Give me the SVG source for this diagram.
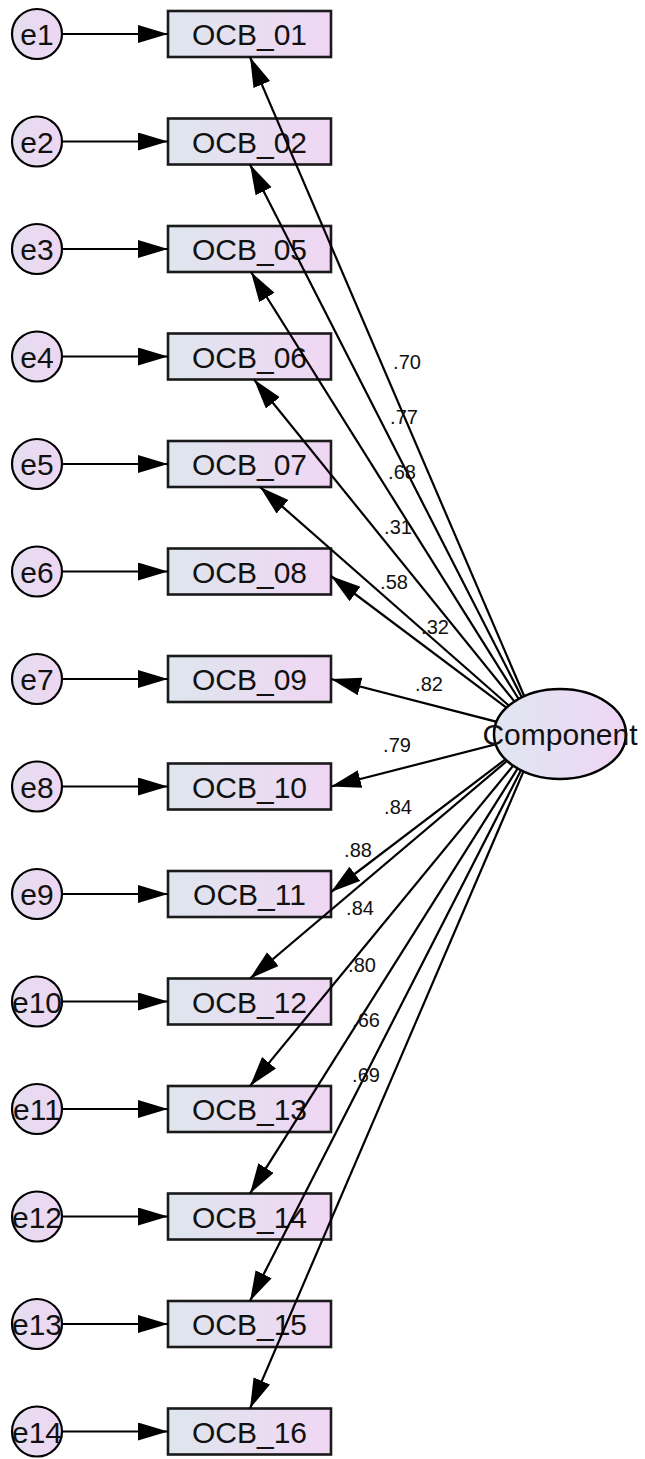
<svg xmlns="http://www.w3.org/2000/svg" width="645" height="1459" viewBox="0 0 645 1459">
  <defs>
    <linearGradient id="boxFill" x1="0" y1="0" x2="1" y2="0">
      <stop offset="0" stop-color="#dee6ee"/>
      <stop offset="1" stop-color="#f0d6f3"/>
    </linearGradient>
    <linearGradient id="errFill" x1="0" y1="0" x2="1" y2="0">
      <stop offset="0" stop-color="#e4def0"/>
      <stop offset="1" stop-color="#eed6f2"/>
    </linearGradient>
    <linearGradient id="latFill" x1="0" y1="0" x2="1" y2="0">
      <stop offset="0" stop-color="#e0e6f0"/>
      <stop offset="1" stop-color="#efd6f5"/>
    </linearGradient>
    <marker id="arrow" markerUnits="userSpaceOnUse" markerWidth="32" markerHeight="20" refX="30" refY="9" orient="auto">
      <path d="M0,0 L30,9 L0,18 z" fill="#000"/>
    </marker>
    <style>
      .err { fill: url(#errFill); stroke: #000; stroke-width: 2.2; }
      .box { fill: url(#boxFill); stroke: #1a1a1a; stroke-width: 2.6; }
      .lat { fill: url(#latFill); stroke: #000; stroke-width: 2.5; }
      .lbl { font-family: "Liberation Sans", Arial, sans-serif; font-size: 30px; fill: #111; text-anchor: middle; }
      .num { font-family: "Liberation Sans", Arial, sans-serif; font-size: 20px; fill: #111; text-anchor: middle; }
      .path { stroke: #000; stroke-width: 2.2; fill: none; marker-end: url(#arrow); }
    </style>
  </defs>
  <rect width="645" height="1459" fill="#fff"/>

  <!-- error terms -->
  <g id="e1"><circle class="err" cx="37" cy="34" r="25"/><text class="lbl" x="37" y="45">e1</text></g>
  <g id="e2"><circle class="err" cx="37" cy="141.5" r="25"/><text class="lbl" x="37" y="152.5">e2</text></g>
  <g id="e3"><circle class="err" cx="37" cy="249" r="25"/><text class="lbl" x="37" y="260">e3</text></g>
  <g id="e4"><circle class="err" cx="37" cy="356.5" r="25"/><text class="lbl" x="37" y="367.5">e4</text></g>
  <g id="e5"><circle class="err" cx="37" cy="464" r="25"/><text class="lbl" x="37" y="475">e5</text></g>
  <g id="e6"><circle class="err" cx="37" cy="571.5" r="25"/><text class="lbl" x="37" y="582.5">e6</text></g>
  <g id="e7"><circle class="err" cx="37" cy="679" r="25"/><text class="lbl" x="37" y="690">e7</text></g>
  <g id="e8"><circle class="err" cx="37" cy="786.5" r="25"/><text class="lbl" x="37" y="797.5">e8</text></g>
  <g id="e9"><circle class="err" cx="37" cy="894" r="25"/><text class="lbl" x="37" y="905">e9</text></g>
  <g id="e10"><circle class="err" cx="37" cy="1001.5" r="25"/><text class="lbl" x="37" y="1012.5">e10</text></g>
  <g id="e11"><circle class="err" cx="37" cy="1109" r="25"/><text class="lbl" x="37" y="1120">e11</text></g>
  <g id="e12"><circle class="err" cx="37" cy="1216.5" r="25"/><text class="lbl" x="37" y="1227.5">e12</text></g>
  <g id="e13"><circle class="err" cx="37" cy="1324" r="25"/><text class="lbl" x="37" y="1335">e13</text></g>
  <g id="e14"><circle class="err" cx="37" cy="1431.5" r="25"/><text class="lbl" x="37" y="1442.5">e14</text></g>

  <!-- observed items -->
  <g id="OCB_01"><rect class="box" x="168" y="11" width="163" height="46"/><text class="lbl" x="249.5" y="45">OCB_01</text></g>
  <g id="OCB_02"><rect class="box" x="168" y="118.5" width="163" height="46"/><text class="lbl" x="249.5" y="152.5">OCB_02</text></g>
  <g id="OCB_05"><rect class="box" x="168" y="226" width="163" height="46"/><text class="lbl" x="249.5" y="260">OCB_05</text></g>
  <g id="OCB_06"><rect class="box" x="168" y="333.5" width="163" height="46"/><text class="lbl" x="249.5" y="367.5">OCB_06</text></g>
  <g id="OCB_07"><rect class="box" x="168" y="441" width="163" height="46"/><text class="lbl" x="249.5" y="475">OCB_07</text></g>
  <g id="OCB_08"><rect class="box" x="168" y="548.5" width="163" height="46"/><text class="lbl" x="249.5" y="582.5">OCB_08</text></g>
  <g id="OCB_09"><rect class="box" x="168" y="656" width="163" height="46"/><text class="lbl" x="249.5" y="690">OCB_09</text></g>
  <g id="OCB_10"><rect class="box" x="168" y="763.5" width="163" height="46"/><text class="lbl" x="249.5" y="797.5">OCB_10</text></g>
  <g id="OCB_11"><rect class="box" x="168" y="871" width="163" height="46"/><text class="lbl" x="249.5" y="905">OCB_11</text></g>
  <g id="OCB_12"><rect class="box" x="168" y="978.5" width="163" height="46"/><text class="lbl" x="249.5" y="1012.5">OCB_12</text></g>
  <g id="OCB_13"><rect class="box" x="168" y="1086" width="163" height="46"/><text class="lbl" x="249.5" y="1120">OCB_13</text></g>
  <g id="OCB_14"><rect class="box" x="168" y="1193.5" width="163" height="46"/><text class="lbl" x="249.5" y="1227.5">OCB_14</text></g>
  <g id="OCB_15"><rect class="box" x="168" y="1301" width="163" height="46"/><text class="lbl" x="249.5" y="1335">OCB_15</text></g>
  <g id="OCB_16"><rect class="box" x="168" y="1408.5" width="163" height="46"/><text class="lbl" x="249.5" y="1442.5">OCB_16</text></g>

  <!-- paths: error terms to items, and loadings from the component -->
  <g id="connectors">
    <line class="path" x1="62" y1="34" x2="168" y2="34"/>
    <line class="path" x1="62" y1="141.5" x2="168" y2="141.5"/>
    <line class="path" x1="62" y1="249" x2="168" y2="249"/>
    <line class="path" x1="62" y1="356.5" x2="168" y2="356.5"/>
    <line class="path" x1="62" y1="464" x2="168" y2="464"/>
    <line class="path" x1="62" y1="571.5" x2="168" y2="571.5"/>
    <line class="path" x1="62" y1="679" x2="168" y2="679"/>
    <line class="path" x1="62" y1="786.5" x2="168" y2="786.5"/>
    <line class="path" x1="62" y1="894" x2="168" y2="894"/>
    <line class="path" x1="62" y1="1001.5" x2="168" y2="1001.5"/>
    <line class="path" x1="62" y1="1109" x2="168" y2="1109"/>
    <line class="path" x1="62" y1="1216.5" x2="168" y2="1216.5"/>
    <line class="path" x1="62" y1="1324" x2="168" y2="1324"/>
    <line class="path" x1="62" y1="1431.5" x2="168" y2="1431.5"/>

    <line class="path" x1="540" y1="733" x2="250" y2="57"/>
    <line class="path" x1="540" y1="733" x2="250" y2="164.5"/>
    <line class="path" x1="540" y1="733" x2="251" y2="272"/>
    <line class="path" x1="540" y1="733" x2="254" y2="379.5"/>
    <line class="path" x1="540" y1="733" x2="260" y2="487"/>
    <line class="path" x1="540" y1="733" x2="331" y2="576"/>
    <line class="path" x1="540" y1="733" x2="331" y2="679"/>
    <line class="path" x1="540" y1="733" x2="331" y2="786.5"/>
    <line class="path" x1="540" y1="733" x2="331" y2="892"/>
    <line class="path" x1="540" y1="733" x2="250" y2="978.5"/>
    <line class="path" x1="540" y1="733" x2="250" y2="1086"/>
    <line class="path" x1="540" y1="733" x2="250" y2="1193.5"/>
    <line class="path" x1="540" y1="733" x2="250" y2="1301"/>
    <line class="path" x1="540" y1="733" x2="250" y2="1408.5"/>

    <text class="num" x="407" y="369">.70</text>
    <text class="num" x="404" y="424">.77</text>
    <text class="num" x="402" y="479">.68</text>
    <text class="num" x="398" y="534">.31</text>
    <text class="num" x="394" y="589">.58</text>
    <text class="num" x="435" y="634">.32</text>
    <text class="num" x="429" y="691">.82</text>
    <text class="num" x="397" y="752">.79</text>
    <text class="num" x="398" y="814">.84</text>
    <text class="num" x="358" y="857">.88</text>
    <text class="num" x="360" y="915">.84</text>
    <text class="num" x="362" y="972">.80</text>
    <text class="num" x="366" y="1027">.66</text>
    <text class="num" x="366" y="1082">.69</text>
  </g>

  <!-- latent factor -->
  <g id="Component">
    <ellipse class="lat" cx="560" cy="734" rx="66" ry="45"/>
    <text class="lbl" x="560" y="745">Component</text>
  </g>
</svg>
